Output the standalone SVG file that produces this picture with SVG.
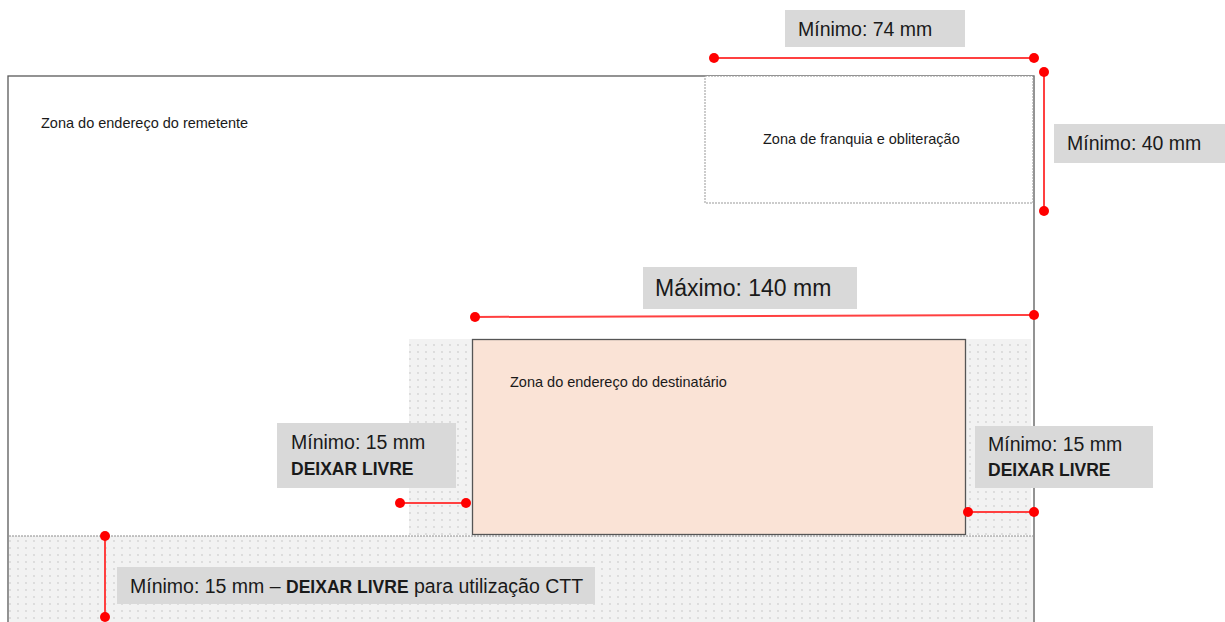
<svg xmlns="http://www.w3.org/2000/svg" width="1225" height="622" viewBox="0 0 1225 622">
<style>
.sm{font-family:"Liberation Sans",Arial,sans-serif;font-size:14.5px;fill:#1a1a1a}
.lb{font-family:"Liberation Sans",Arial,sans-serif;font-size:19.5px;fill:#1a1a1a}
.bd{font-weight:bold;font-size:17.5px}
.box{fill:#d9d9d9}
.dim{stroke:#ff4040;stroke-width:2;fill:none}
.dot{fill:#ff0000}
</style>
<defs>
<pattern id="dots" x="0" y="0" width="8" height="7" patternUnits="userSpaceOnUse">
<rect width="8" height="7" fill="#f2f2f2"/>
<circle cx="2" cy="2" r="0.7" fill="#b8b8b8"/>
</pattern>
</defs>
<rect width="1225" height="622" fill="#ffffff"/>
<g id="envelope">
<rect x="8" y="76" width="1026" height="560" fill="#ffffff" stroke="#595959" stroke-width="1.3"/>
</g>
<g id="zona-livre-ctt">
<rect x="9" y="536" width="1024" height="90" fill="url(#dots)"/>
<line x1="9" y1="536" x2="1033" y2="536" stroke="#8c8c8c" stroke-width="1" stroke-dasharray="2,1"/>
</g>
<g id="zona-livre-destinatario">
<rect x="409" y="339" width="622" height="196" fill="url(#dots)"/>
</g>
<g id="remetente">
<text class="sm" x="41" y="128">Zona do endereço do remetente</text>
</g>
<g id="franquia">
<rect x="705" y="76" width="328" height="127" fill="#ffffff" stroke="#999999" stroke-width="1" stroke-dasharray="2,1"/>
<text class="sm" x="763" y="144">Zona de franquia e obliteração</text>
</g>
<g id="destinatario">
<rect x="472.5" y="339.5" width="493" height="195" fill="#fae3d6" stroke="#555555" stroke-width="1.3"/>
<text class="sm" x="510" y="387">Zona do endereço do destinatário</text>
</g>
<g id="connectors">
<line class="dim" x1="714" y1="58" x2="1034" y2="58"/>
<circle class="dot" cx="714" cy="58" r="5"/>
<circle class="dot" cx="1034" cy="58" r="5"/>
<line class="dim" x1="1044" y1="72" x2="1044" y2="211"/>
<circle class="dot" cx="1044" cy="72" r="5"/>
<circle class="dot" cx="1044" cy="211" r="5"/>
<line class="dim" x1="475" y1="317" x2="1034" y2="315"/>
<circle class="dot" cx="475" cy="317" r="5"/>
<circle class="dot" cx="1034" cy="315" r="5"/>
<line class="dim" x1="400" y1="503" x2="466" y2="503"/>
<circle class="dot" cx="400" cy="503" r="5"/>
<circle class="dot" cx="466" cy="503" r="5"/>
<line class="dim" x1="968" y1="512" x2="1034" y2="512"/>
<circle class="dot" cx="968" cy="512" r="5"/>
<circle class="dot" cx="1034" cy="512" r="5"/>
<line class="dim" x1="105" y1="536" x2="105" y2="617"/>
<circle class="dot" cx="105" cy="536" r="5"/>
<circle class="dot" cx="105" cy="617" r="5"/>
</g>
<g id="label-74">
<rect class="box" x="785" y="10" width="180" height="37"/>
<text class="lb" x="798" y="36">Mínimo: 74 mm</text>
</g>
<g id="label-40">
<rect class="box" x="1054" y="124" width="171" height="39"/>
<text class="lb" x="1067" y="150">Mínimo: 40 mm</text>
</g>
<g id="label-140">
<rect class="box" x="643" y="267" width="214" height="42"/>
<text class="lb" x="655" y="296" style="font-size:23px">Máximo: 140 mm</text>
</g>
<g id="label-15-left">
<rect class="box" x="277" y="423" width="179" height="65"/>
<text class="lb" x="291" y="449">Mínimo: 15 mm</text>
<text class="lb bd" x="291" y="475">DEIXAR LIVRE</text>
</g>
<g id="label-15-right">
<rect class="box" x="975" y="426" width="178" height="62"/>
<text class="lb" x="988" y="451">Mínimo: 15 mm</text>
<text class="lb bd" x="988" y="476">DEIXAR LIVRE</text>
</g>
<g id="label-15-bottom">
<rect class="box" x="117" y="567" width="478" height="37"/>
<text class="lb" x="130" y="593">Mínimo: 15 mm – <tspan class="bd">DEIXAR LIVRE</tspan> para utilização CTT</text>
</g>
</svg>
